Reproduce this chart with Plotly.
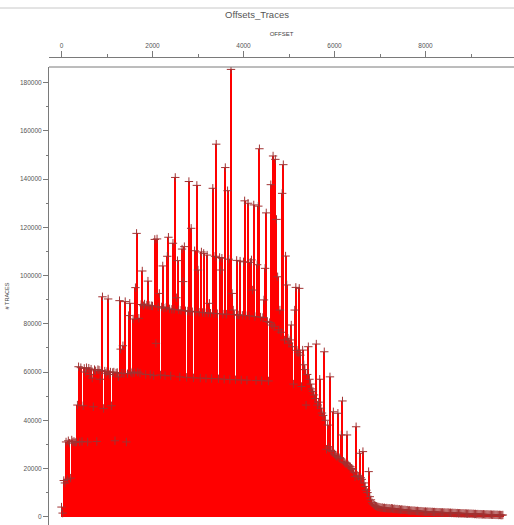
import plotly.graph_objects as go

TITLE = "Offsets_Traces"
X_TITLE = "OFFSET"
Y_TITLE = "# TRACES"
BIN_WIDTH = 25  # offset bin width

# trace counts per offset bin (bin i -> offset i*BIN_WIDTH)
TRACES = [
    4000, 1500, 15000, 14000, 31000, 15500, 31500, 30500, 16000, 31800, 31000, 31200, 30800, 31000, 46300, 62200, 31000, 61800, 31200, 46000,
    61500, 60000, 61800, 31000, 61600, 59000, 61200, 57500, 45600, 61000, 60500, 31200, 61000, 60800, 57000, 60600, 91200, 44900, 60400, 59500,
    60200, 90300, 59000, 60000, 46000, 59800, 60000, 31500, 59600, 59800, 58000, 89600, 69500, 59500, 70900, 59400, 89200, 31000, 59300, 83400,
    88500, 60000, 59500, 82000, 59800, 95000, 117500, 60000, 82300, 59500, 88000, 101900, 87500, 88200, 59000, 87800, 97700, 87600, 59000, 87500,
    87400, 58500, 115000, 71900, 115200, 87000, 92600, 58800, 87000, 104000, 86500, 58500, 86800, 108000, 115900, 86200, 58400, 86000, 113400, 86000,
    140700, 90800, 106200, 85800, 58000, 85600, 111000, 97500, 112000, 85400, 57800, 85300, 139000, 85200, 119600, 85000, 57600, 110300, 85000, 137400,
    102300, 84800, 57500, 109800, 84700, 109200, 84600, 57400, 108500, 84500, 88500, 84400, 57300, 136200, 84300, 108000, 154500, 84200, 57200, 107500,
    102300, 107200, 84000, 57000, 144800, 84000, 135200, 106800, 56900, 185500, 92600, 85700, 83800, 56800, 106300, 83700, 83600, 106000, 56700, 83500,
    105700, 131000, 83400, 56600, 130000, 83300, 105500, 106500, 94000, 129300, 83000, 56500, 104500, 128800, 152600, 82800, 56400, 82600, 89900, 103000,
    126000, 81000, 56300, 80500, 137700, 79500, 149600, 78800, 148200, 123300, 99500, 77500, 85700, 76500, 134100, 146000, 73300, 108100, 96100, 74000,
    72000, 73300, 79500, 70500, 55000, 85700, 95100, 69000, 68000, 94700, 67000, 54000, 69100, 63000, 61000, 46300, 59000, 70500, 57000, 55000,
    53000, 52000, 50500, 49000, 71600, 46300, 47500, 57000, 45000, 43000, 42000, 68400, 40000, 28000, 38000, 29000, 58000, 27500, 27000, 43500,
    26000, 25500, 25000, 42900, 24500, 24000, 33900, 48000, 23000, 22500, 22000, 33900, 21500, 21000, 20700, 20000, 19500, 18500, 16600, 37300,
    17000, 16800, 26300, 16200, 15500, 27000, 14000, 12500, 11000, 10000, 18700, 8300, 7000, 5800, 5200, 4800, 4500, 4300, 4100, 4000,
    3900, 3700, 3800, 3600, 3700, 3500, 3600, 3400, 3500, 3300, 3500, 3400, 3200, 3300, 3100, 3200, 3000, 3100, 2900, 3000,
    2900, 2800, 2850, 2700, 2750, 2600, 2650, 2500, 2550, 2450, 2500, 2400, 2350, 2400, 2300, 2250, 2300, 2200, 2150, 2100,
    2150, 2050, 2100, 2000, 2050, 1950, 2000, 1900, 1950, 1850, 1900, 1800, 1850, 1800, 1750, 1800, 1700, 1750, 1650, 1700,
    1700, 1600, 1650, 1550, 1600, 1500, 1550, 1450, 1500, 1400, 1450, 1400, 1350, 1400, 1300, 1350, 1300, 1250, 1300, 1200,
    1250, 1150, 1200, 1100, 1150, 1050, 1100, 1000, 1050, 1000, 950, 1000, 950, 900, 950, 900, 850, 900, 850, 800,
    850, 800, 750, 800, 700, 750, 700, 650, 700,
]

X_TICKS = [0, 2000, 4000, 6000, 8000]
Y_TICKS = [0, 20000, 40000, 60000, 80000, 100000, 120000, 140000, 160000, 180000]
Y_TICK_LABELS = ["0", "20000", "40000", "60000", "80000", "100000", "120000", "140000", "160000", "180000"]

offsets = [i * BIN_WIDTH for i in range(len(TRACES))]

W, H = 514, 525
T, B, L, R = 57, 0, 49, 0
FRAME_TOP = 67
ydom_top = (H - FRAME_TOP - B) / (H - T - B)
FONT = "Liberation Sans, Arial, sans-serif"
AX = "#7a7a7a"
TXT = "#555555"

fig = go.Figure()
# markers first, so that neighbouring taller stems hide them (as in the original)
fig.add_trace(go.Scatter(x=offsets, y=TRACES, mode="markers",
                         marker=dict(symbol="cross-thin", size=6, color="rgb(160,50,50)",
                                     line=dict(color="rgb(160,50,50)", width=1)),
                         hoverinfo="skip", showlegend=False))
fig.add_trace(go.Bar(x=offsets, y=TRACES, width=BIN_WIDTH * 0.9,
                     marker=dict(color="rgb(255,0,0)", line=dict(width=0)),
                     hoverinfo="skip", showlegend=False))

fig.update_layout(
    width=W, height=H,
    margin=dict(l=L, r=R, t=T, b=B, pad=0),
    paper_bgcolor="white", plot_bgcolor="white",
    font=dict(family=FONT, color=TXT),
    bargap=0,
    title=dict(text=TITLE, x=0.5, xref="container", xanchor="center",
               y=1 - 15 / H, yref="container", yanchor="middle",
               font=dict(size=9.5, color="#555", family=FONT)),
    xaxis=dict(
        range=[-275, 9945], side="top", anchor="free", position=1,
        tickmode="array", tickvals=X_TICKS, ticks="outside", ticklen=6,
        tickcolor=AX, tickwidth=1, showline=True, linecolor=AX, linewidth=1,
        showgrid=False, zeroline=False,
        tickfont=dict(size=6.5, color=TXT, family=FONT),
        minor=dict(dtick=1000, tick0=0, ticks="outside", ticklen=3, tickcolor=AX, showgrid=False),
        title=dict(text=X_TITLE, font=dict(size=6, color="#444", family=FONT), standoff=4),
    ),
    yaxis=dict(
        domain=[0, ydom_top], range=[-3442, 186500],
        tickmode="array", tickvals=Y_TICKS, ticktext=Y_TICK_LABELS,
        ticks="outside", ticklen=5, tickcolor=AX, tickwidth=1,
        showline=True, linecolor=AX, linewidth=1,
        showgrid=False, zeroline=False,
        tickfont=dict(size=6.5, color=TXT, family=FONT),
        minor=dict(dtick=10000, tick0=0, ticks="outside", ticklen=2.5, tickcolor=AX, showgrid=False),
        title=dict(text=Y_TITLE, font=dict(size=5.5, color="#444", family=FONT), standoff=10),
    ),
    shapes=[
        dict(type="line", xref="x domain", yref="y domain", x0=0, x1=1, y0=1, y1=1,
             line=dict(color=AX, width=1)),
        dict(type="line", xref="paper", yref="paper", x0=-L / (W - L - R), x1=1,
             y0=(H - B - 8) / (H - T - B), y1=(H - B - 8) / (H - T - B),
             line=dict(color="#c8c8c8", width=1)),
    ],
)

fig.write_html("out.html")
